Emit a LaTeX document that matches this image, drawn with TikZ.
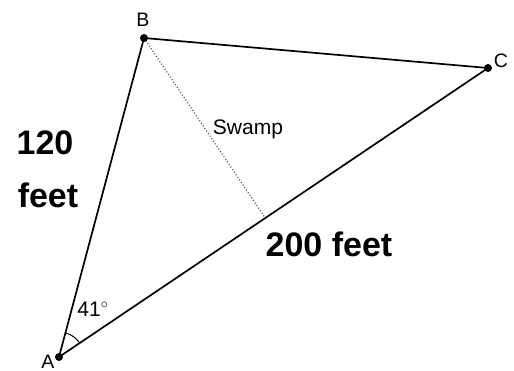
\documentclass[tikz,border=0pt]{standalone}
\usepackage{fontspec}
\setmainfont{Liberation Sans}
\usetikzlibrary{calc}
\begin{document}
\begin{tikzpicture}[x=1pt,y=-1pt,
  side/.style={line width=1.7pt,black},
  vdot/.style={circle,fill=black,inner sep=0pt,minimum size=8pt},
  ptlabel/.style={font=\fontsize{19.5}{19.5}\selectfont,inner sep=0pt},
  biglabel/.style={font=\fontsize{34}{36}\selectfont\bfseries,inner sep=0pt,anchor=base}]
\useasboundingbox (0,0) rectangle (514,371);
\coordinate (A) at (59,357);
\coordinate (B) at (144,38);
\coordinate (C) at (488,68);
\coordinate (F) at ($(A)!(B)!(C)$);
\draw[gray!60!black,line width=1.1pt,dotted] (B) -- (F);
\draw[side] (A) -- (B) -- (C) -- cycle;
\draw[line width=1pt] ($(A)!25pt!(C)$) arc[start angle=34.06,end angle=75.1,radius=25pt,y=-1pt];
\node[vdot] (dA) at (A) {};
\node[vdot] (dB) at (B) {};
\node[vdot] (dC) at (C) {};
\node[ptlabel] (lB) at (143,20) {B};
\node[ptlabel] (lC) at (501,61) {C};
\node[ptlabel] (lA) at (48,362) {A};
\node[font=\fontsize{21}{21}\selectfont,inner sep=0pt] (ang) at (93,309) {41$^{\circ}$};
\node[font=\fontsize{21}{21}\selectfont,inner sep=0pt] (sw) at (248,129) {Swamp};
\node[biglabel] (l120) at (45,155) {120};
\node[biglabel] (lfeet) at (48,208) {feet};
\node[biglabel] (l200) at (329,257) {200 feet};
\end{tikzpicture}
\end{document}
